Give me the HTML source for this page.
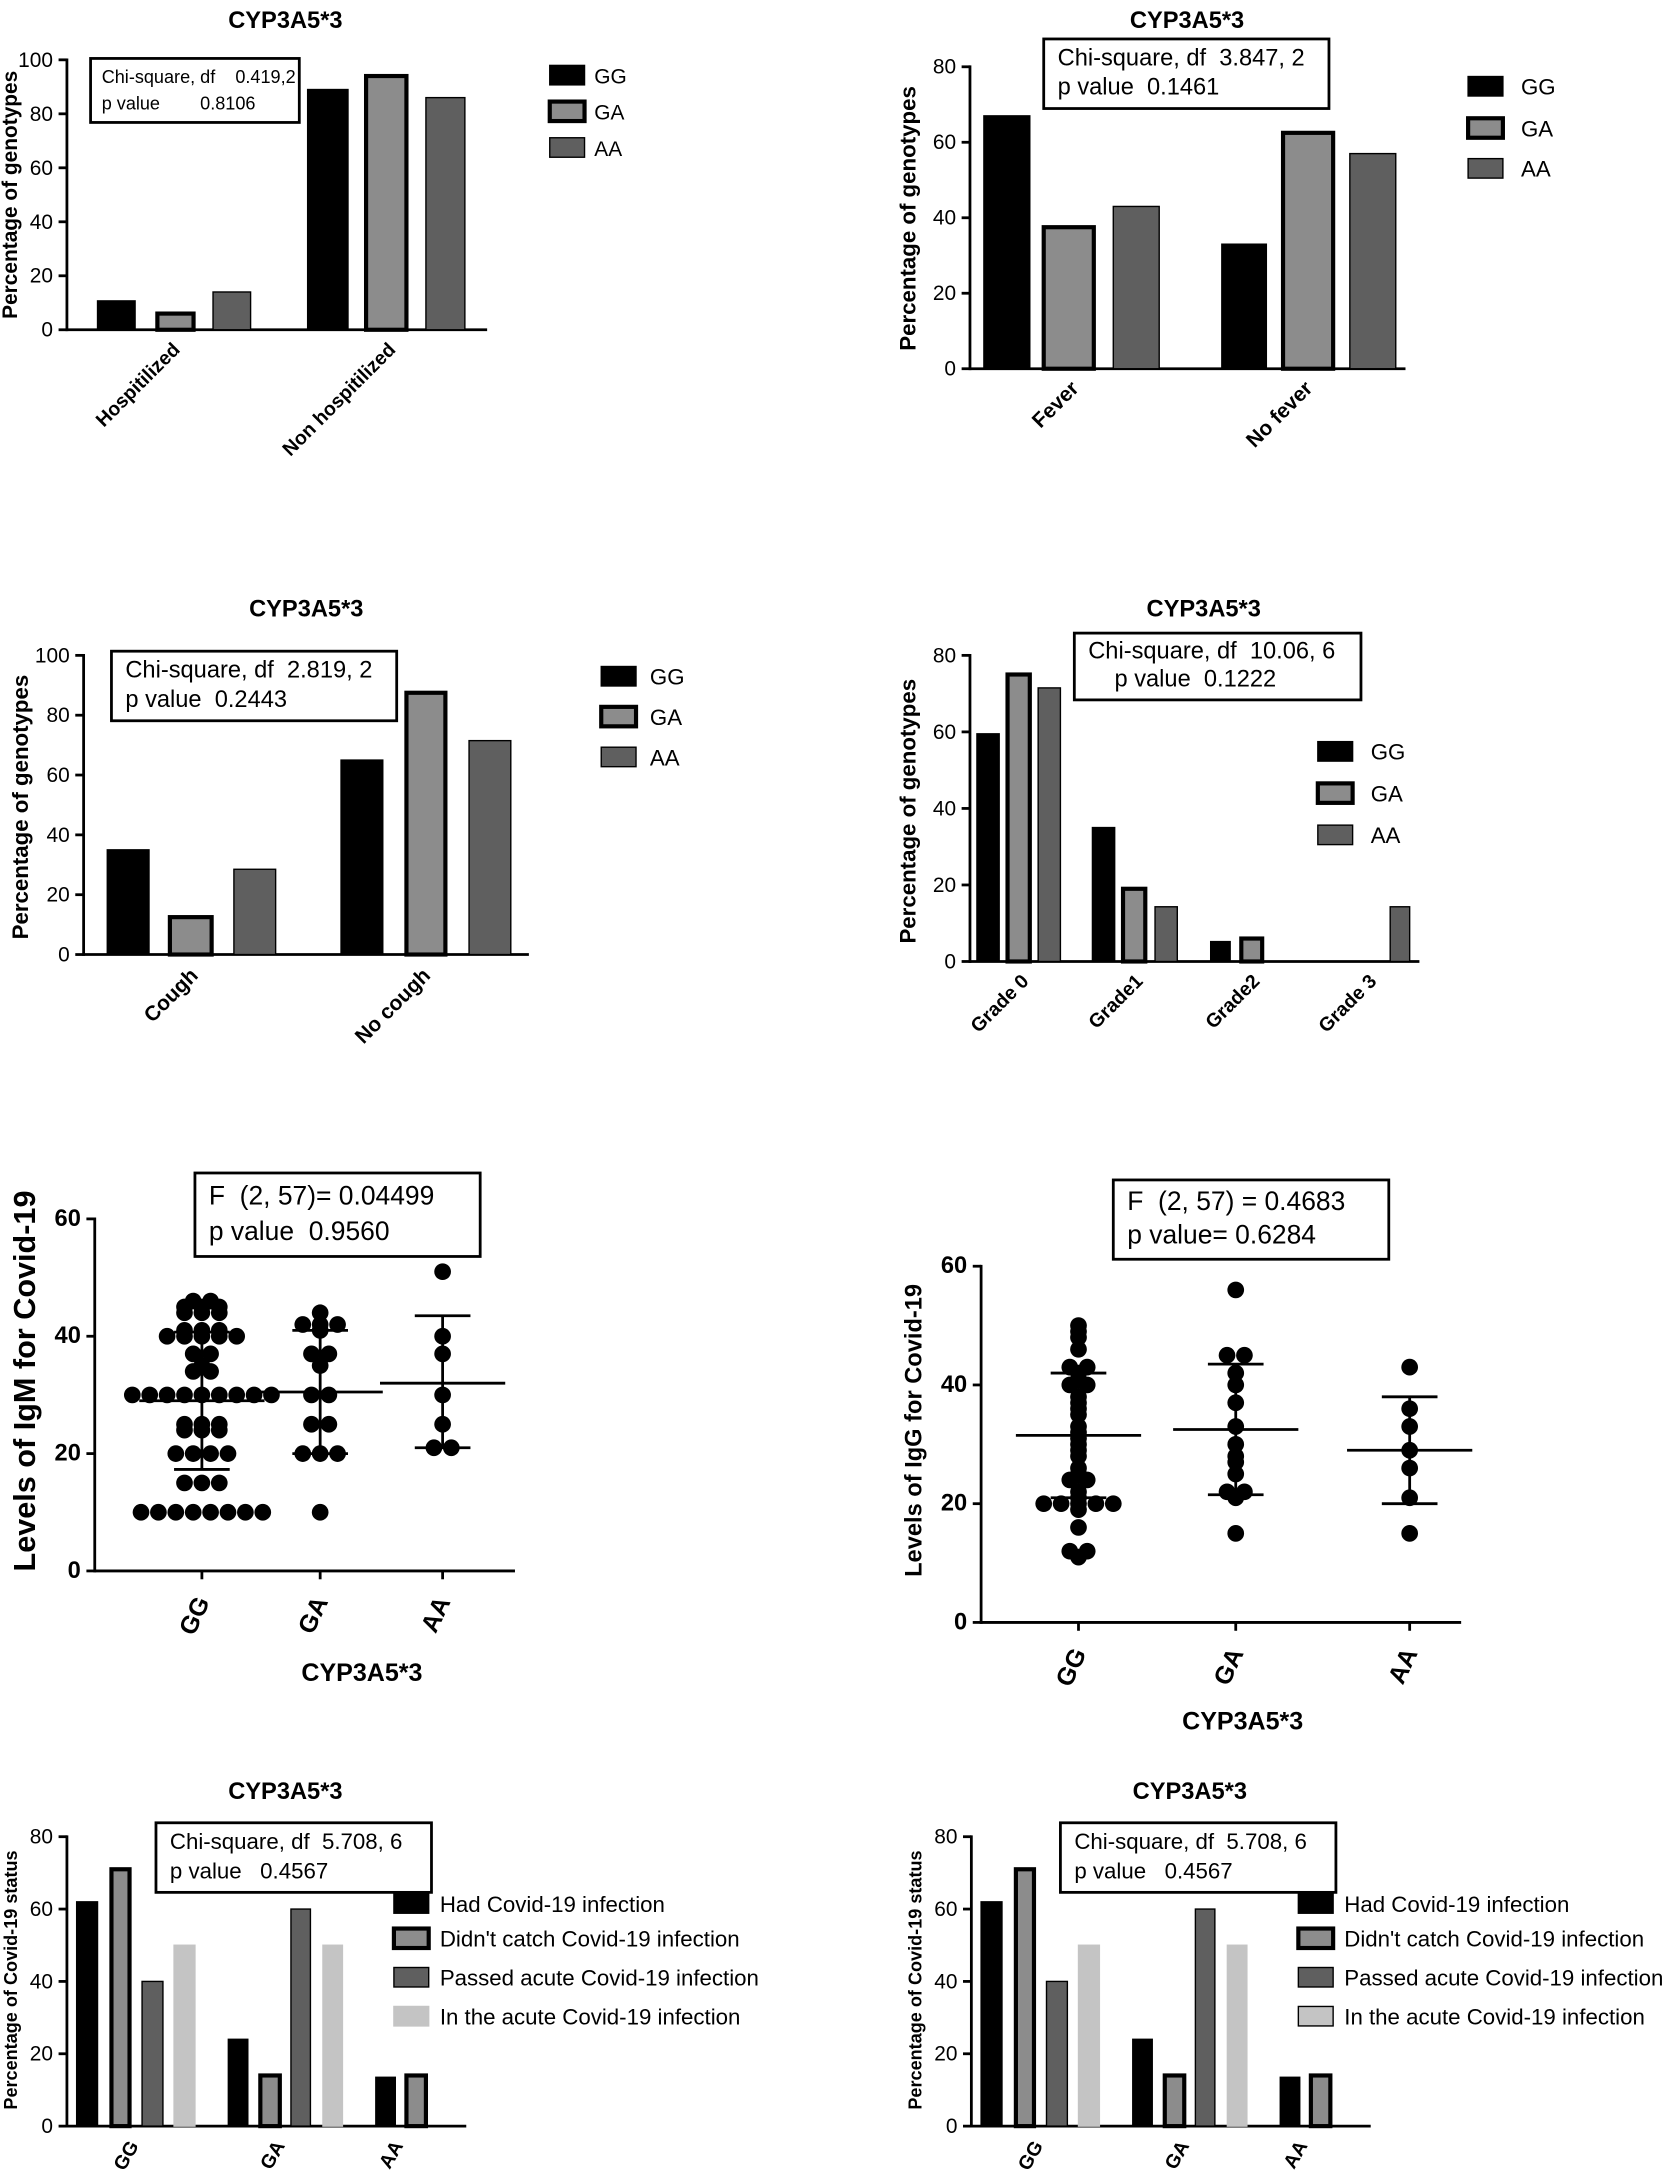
<!DOCTYPE html>
<html><head><meta charset="utf-8">
<style>
html,body{margin:0;padding:0;background:#fff;overflow:hidden;}
svg{display:block;font-family:"Liberation Sans",Arial,sans-serif;}
</style></head>
<body>
<svg id="s" width="1670" height="2179" viewBox="0 0 1200 1566" xmlns="http://www.w3.org/2000/svg"></svg>
<script>
let o='';
const C=['#000','#8c8c8c','#5f5f5f','#c4c4c4'];
function T(x,y,t,sz,opt){opt=opt||{};o+=`<text x="${x}" y="${y}" font-size="${sz}" ${opt.b?'font-weight="bold"':''} text-anchor="${opt.a||'start'}" ${opt.r!==undefined?`transform="rotate(${opt.r} ${x} ${y})"`:''}>${t}</text>`;}
function L(x1,y1,x2,y2,w){o+=`<line x1="${x1}" y1="${y1}" x2="${x2}" y2="${y2}" stroke="#000" stroke-width="${w||2}"/>`;}
function R(x,y,w,h,f,sw){o+=`<rect x="${x}" y="${y}" width="${w}" height="${h}" fill="${f}" stroke="#000" stroke-width="${sw||1}"/>`;}
function axis(ax,yTop,yBot,maxV,step,xEnd,lab,labSz,bold){
  L(ax,yTop-1,ax,yBot+1);L(ax,yBot,xEnd,yBot);
  for(let v=0;v<=maxV;v+=step){let y=yBot-(yBot-yTop)*v/maxV;L(ax-6,y,ax,y);T(ax-10,y+5,v,labSz||15,{a:'end',b:bold});}
}
function bars(yTop,yBot,maxV,list){
  list.forEach(b=>{let h=(yBot-yTop)*b[2]/maxV;let f=C[b[3]];R(b[0],yBot-h,b[1]-b[0],h,f,b[3]==1?3:1);});
}
function legend(x,ys,names,tx,sz){ys.forEach((y,i)=>{R(x,y-7,25,14,C[i],i==1?3:1);T(tx,y+6,names[i],sz||16);});}
function box(x,y,w,h,l1,l2,sz,dx){R(x,y,w,h,'none',2);T(x+(dx||10),y+h*0.38,l1,sz);T(x+(dx||10),y+h*0.8,l2,sz);}
const G3=['GG','GA','AA'];
// Panel 1
T(205,20,'CYP3A5*3',17,{b:1,a:'middle'});
axis(48,43,237,100,20,350);
bars(43,237,100,[[70,97,10.7,0],[113,139,6,1],[153,180,14,2],[221,250,89,0],[263,292,94,1],[306,334,86,2]]);
T(12,140,'Percentage of genotypes',15,{b:1,a:'middle',r:-90});
T(130,252,'Hospitilized',14,{b:1,a:'end',r:-45});T(285,252,'Non hospitilized',14,{b:1,a:'end',r:-45});
box(65,42,150,46,'Chi-square, df &#160;&#160; 0.419,2',' p value &#160;&#160;&#160;&#160;&#160;&#160; 0.8106',13,8);
legend(395,[54,80,106],G3,427,15);
// Panel 2
T(853,20,'CYP3A5*3',17,{b:1,a:'middle'});
axis(697,48,265,80,20,1010);
bars(48,265,80,[[707,740,67,0],[750,786,37.5,1],[800,833,43,2],[878,910,33,0],[922,958,62.5,1],[970,1003,57,2]]);
T(658,157,'Percentage of genotypes',16,{b:1,a:'middle',r:-90});
T(776,280,'Fever',15,{b:1,a:'end',r:-45});T(944,280,'No fever',15,{b:1,a:'end',r:-45});
box(750,28,205,50,'Chi-square, df &#160;3.847, 2',' p value &#160;0.1461',17);
legend(1055,[62,92,121],G3,1093,16);
// Panel 3
T(220,443,'CYP3A5*3',17,{b:1,a:'middle'});
axis(60,471,686,100,20,380);
bars(471,686,100,[[77,107,35,0],[122,152,12.5,1],[168,198,28.5,2],[245,275,65,0],[292,320,87.5,1],[337,367,71.5,2]]);
T(20,580,'Percentage of genotypes',16,{b:1,a:'middle',r:-90});
T(143,702,'Cough',15,{b:1,a:'end',r:-45});T(310,702,'No cough',15,{b:1,a:'end',r:-45});
box(80,468,205,50,'Chi-square, df &#160;2.819, 2',' p value &#160;0.2443',17);
legend(432,[486,515,544],G3,467,16);
// Panel 4
T(865,443,'CYP3A5*3',17,{b:1,a:'middle'});
axis(697,471,691,80,20,1020);
bars(471,691,80,[[702,718,59.5,0],[724,740,75,1],[746,762,71.5,2],[785,801,35,0],[807,823,19,1],[830,846,14.3,2],[870,884,5.2,0],[892,907,6,1],[999,1013,14.3,2]]);
T(658,583,'Percentage of genotypes',16,{b:1,a:'middle',r:-90});
[['Grade 0',740],['Grade1',822],['Grade2',906],['Grade 3',990]].forEach(g=>T(g[1],706,g[0],14,{b:1,a:'end',r:-45}));
box(772,455,206,48,'Chi-square, df &#160;10.06, 6',' &#160;&#160;&#160;&#160;p value &#160;0.1222',17);
legend(947,[540,570,600],G3,985,16);
// Scatter
function scatter(ax,yTop,yBot,maxV,xEnd,xs,data,stats,ylab,ylx,ysz,xl,xly,bx){
  axis(ax,yTop,yBot,maxV,20,xEnd,null,17,1);
  const Y=v=>yBot-(yBot-yTop)*v/maxV;
  data.forEach((d,gi)=>{
    const cnt={};d.forEach(v=>cnt[v]=(cnt[v]||0)+1);
    Object.keys(cnt).forEach(k=>{let n=cnt[k];for(let i=0;i<n;i++){let x=xs[gi]+(i-(n-1)/2)*12.5;o+=`<circle cx="${x}" cy="${Y(+k)}" r="6" fill="#000"/>`;}});
    let s=stats[gi];
    L(xs[gi]-45,Y(s[0]),xs[gi]+45,Y(s[0]),2);
    L(xs[gi],Y(s[1]),xs[gi],Y(s[2]),2);
    L(xs[gi]-20,Y(s[1]),xs[gi]+20,Y(s[1]),2);L(xs[gi]-20,Y(s[2]),xs[gi]+20,Y(s[2]),2);
    L(xs[gi],yBot,xs[gi],yBot+6);
    T(xs[gi]+6,yBot+22,G3[gi],18,{b:1,a:'end',r:-65});
  });
  T(ylx,(yTop+yBot)/2-10,ylab,ysz,{b:1,a:'middle',r:-90});
  T(xl,xly,'CYP3A5*3',18,{b:1,a:'middle'});
  box(bx[0],bx[1],bx[2],bx[3],'F &#160;(2, 57)'+bx[4],' p value'+bx[5],19);
}
scatter(68,876,1129,60,370,[145,230,318],
 [[46,46,45,45,45,44,44,44,41,41,41,40,40,40,40,40,37,37,35,34,34,30,30,30,30,30,30,30,30,30,25,25,25,24,24,24,20,20,20,20,15,15,15,10,10,10,10,10,10,10,10],
  [44,42,42,42,41,37,37,35,30,30,25,25,20,20,20,10],[51,40,37,30,25,21,21]],
 [[29,17.3,40.7],[30.5,20,41],[32,21,43.5]],'Levels of IgM for Covid-19',25,22,260,1208,[140,843,205,60,'= 0.04499','&#160;&#160;0.9560']);
scatter(705,910,1166,60,1050,[775,888,1013],
 [[50,49,48,46,43,43,42,41,40,40,38,37,36,35,33,32,31,30,29,28,26,25,24,24,22,21,20,20,20,20,20,19,16,12,12,11],
  [56,45,45,42,40,37,33,30,28,27,25,22,22,21,15],[43,36,33,29,26,21,15]],
 [[31.5,21,42],[32.5,21.5,43.5],[29,20,38]],'Levels of IgG for Covid-19',662,17,893,1243,[800,848,198,57,' = 0.4683','= 0.6284']);
// Panels 7/8
function p7(dx){
  T(205+dx,1293,'CYP3A5*3',17,{b:1,a:'middle'});
  axis(48+dx,1320,1528,80,20,335+dx);
  bars(1320,1528,80,[[55,70,62,0],[80,93,71,1],[102,117,40,2],[125,140,50,3],[164,178,24,0],[187,201,14,1],[209,223,60,2],[232,246,50,3],[270,284,13.5,0],[292,306,14,1]].map(b=>[b[0]+dx,b[1]+dx,b[2],b[3]]));
  o=o.replace(new RegExp('fill="#c4c4c4" stroke="#000" stroke-width="1"','g'),'fill="#c4c4c4" stroke="#c4c4c4" stroke-width="1"');
  T(12+dx,1423,'Percentage of Covid-19 status',13,{b:1,a:'middle',r:-90});
  [['GG',100],['GA',205],['AA',290]].forEach(g=>T(g[1]+dx,1542,g[0],14,{b:1,a:'end',r:-60}));
  box(112+dx,1310,198,50,'Chi-square, df &#160;5.708, 6',' p value &#160;&#160;0.4567',16);
  legend(283+dx,[1368,1393,1421,1449],['Had Covid-19 infection',"Didn't catch Covid-19 infection",'Passed acute Covid-19 infection','In the acute Covid-19 infection'],316+dx,16);
}
p7(0);p7(650);
document.getElementById('s').innerHTML=o;
</script>
</body></html>
